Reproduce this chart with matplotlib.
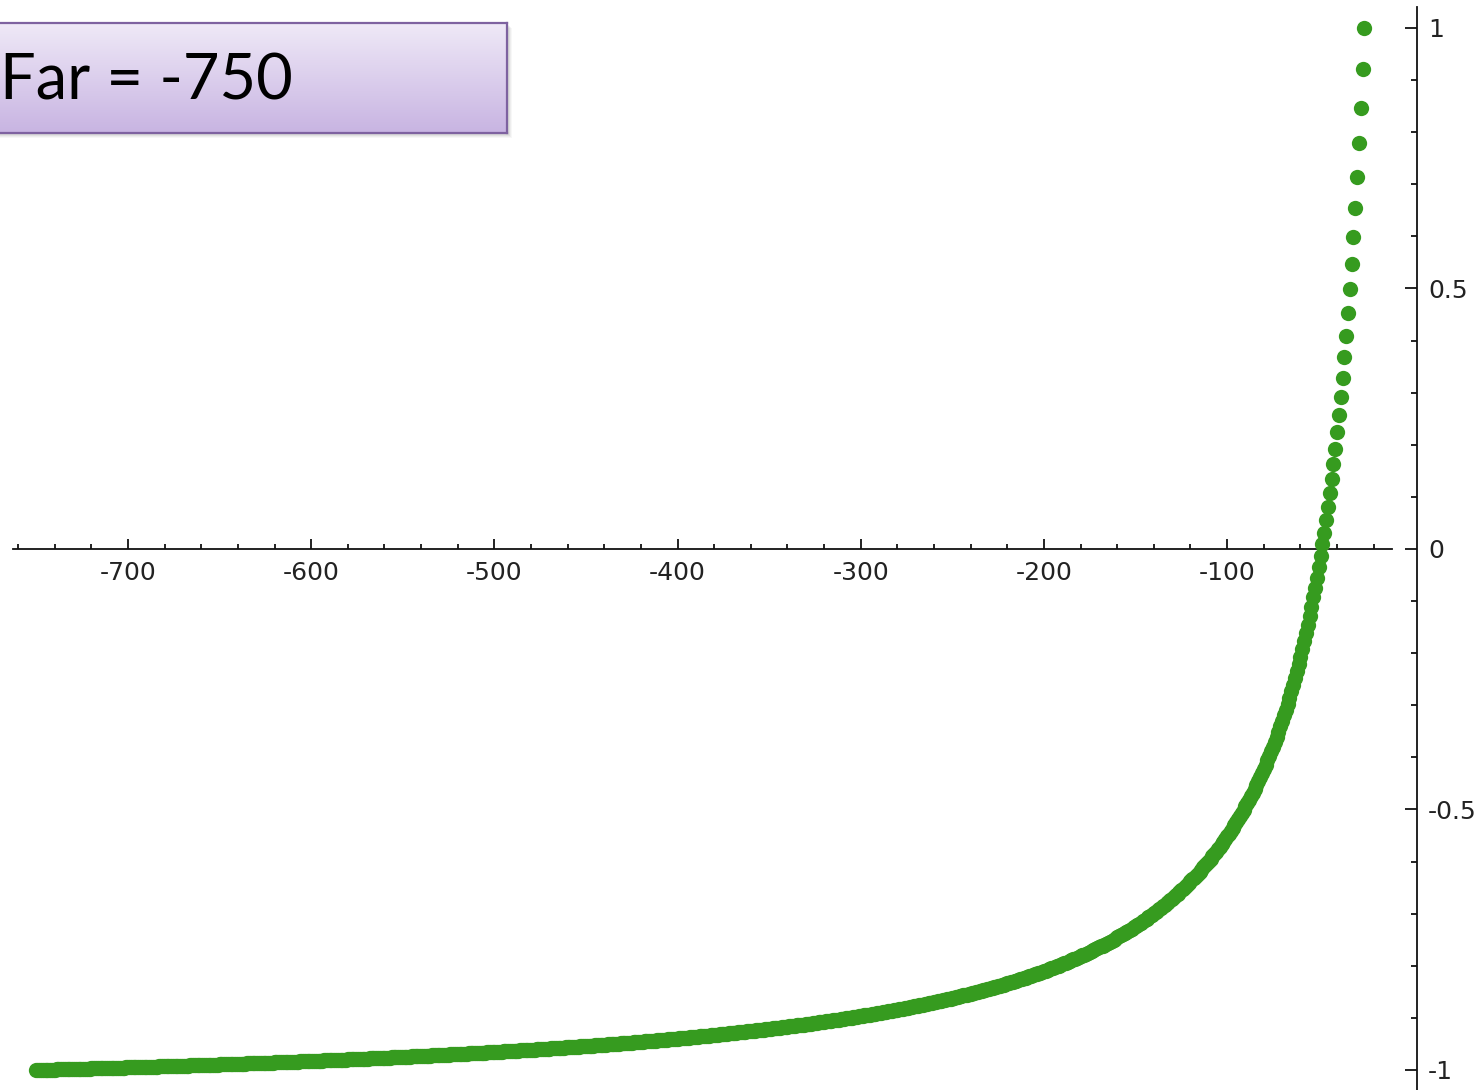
import numpy as np
import matplotlib
matplotlib.use("Agg")
import matplotlib.pyplot as plt
from matplotlib.ticker import FixedLocator, FixedFormatter
from matplotlib.patches import Rectangle
from matplotlib.colors import LinearSegmentedColormap

plt.rcParams["axes.unicode_minus"] = False

# Clip planes (eye-space z) and the integer depth samples between them
near_z = -25
far_z = -750
depth_samples = np.arange(near_z, far_z - 1, -1)

# Normalised device depth of each sample: +1 at the near plane, -1 at the far plane
ndc_a = -(far_z + near_z) / (far_z - near_z)
ndc_b = 2 * far_z * near_z / (far_z - near_z)
ndc_depth = ndc_a + ndc_b / depth_samples

x_major = [-700, -600, -500, -400, -300, -200, -100]
x_labels = ["-700", "-600", "-500", "-400", "-300", "-200", "-100"]
y_major = [-1, -0.5, 0, 0.5, 1]
y_labels = ["-1", "-0.5", "0", "0.5", "1"]
label_text = "Far = -750"

W, H, DPI = 1483, 1090, 100
fig = plt.figure(figsize=(W / DPI, H / DPI), dpi=DPI)
ax = fig.add_axes([0, 0, 1, 1])
ax.set_facecolor("white")
ax.set_xlim(-769.9, 39.7)
ax.set_ylim(-1.0384, 1.0537)

green = "#369b1f"
axis_c = "#111111"
lw = 1.3

# Axis lines: horizontal at y=0, vertical one set just right of the data
for s in ("top", "left"):
    ax.spines[s].set_visible(False)
ax.spines["bottom"].set_position(("data", 0))
ax.spines["bottom"].set_bounds(-763, -10)
ax.spines["right"].set_position(("data", 3.7))
ax.spines["right"].set_bounds(-1.1, 1.04)
for s in ("bottom", "right"):
    ax.spines[s].set_linewidth(lw)
    ax.spines[s].set_color(axis_c)
    ax.spines[s].set_zorder(1)

ax.xaxis.set_major_locator(FixedLocator(x_major))
ax.xaxis.set_major_formatter(FixedFormatter(x_labels))
ax.xaxis.set_minor_locator(FixedLocator([v for v in range(-760, -19, 20) if v % 100]))
ax.yaxis.tick_right()
ax.yaxis.set_major_locator(FixedLocator(y_major))
ax.yaxis.set_major_formatter(FixedFormatter(y_labels))
ax.yaxis.set_minor_locator(FixedLocator([v / 10 for v in range(-9, 10) if v % 5]))

ax.tick_params(axis="x", which="major", direction="in", length=7.2, width=lw,
               color=axis_c, labelsize=18, labelcolor="#222222", pad=9)
ax.tick_params(axis="x", which="minor", direction="in", length=3.8, width=lw, color=axis_c)
ax.tick_params(axis="y", which="major", direction="in", length=8.6, width=lw,
               color=axis_c, labelsize=18, labelcolor="#222222", pad=8,
               right=True, left=False, labelright=True, labelleft=False)
ax.tick_params(axis="y", which="minor", direction="in", length=4.3, width=lw,
               color=axis_c, right=True, left=False)

ax.scatter(depth_samples, ndc_depth, s=11 ** 2, color=green, linewidths=0, zorder=3)

# Caption box with a vertical lavender gradient and soft shadow
bx0, by0, bx1, by1 = -5, 23, 507, 133  # pixel extents (top-left origin)
for i, a in enumerate([0.05, 0.05, 0.05, 0.04, 0.03]):
    off = 1 + i
    fig.patches.append(Rectangle(((bx0 + off) / W, 1 - (by1 + off) / H),
                                 (bx1 - bx0) / W, (by1 - by0) / H,
                                 transform=fig.transFigure, facecolor="black",
                                 edgecolor="none", alpha=a, zorder=4))
bax = fig.add_axes([bx0 / W, 1 - by1 / H, (bx1 - bx0) / W, (by1 - by0) / H], zorder=5)
grad = np.linspace(0, 1, 256)[:, None]
cmap = LinearSegmentedColormap.from_list("lav", ["#efe9f7", "#c8b4e2"])
bax.imshow(grad, aspect="auto", cmap=cmap, extent=[0, 1, 0, 1], origin="upper")
bax.set_xticks([])
bax.set_yticks([])
for s in bax.spines.values():
    s.set_color("#7e62a0")
    s.set_linewidth(1.6)
fig.text(0 / W, 1 - 100 / H, label_text, fontsize=45.5, family=["Lato", "DejaVu Sans"],
         color="black", va="baseline", ha="left", zorder=6)

fig.savefig("out.png", dpi=DPI, facecolor="white")
